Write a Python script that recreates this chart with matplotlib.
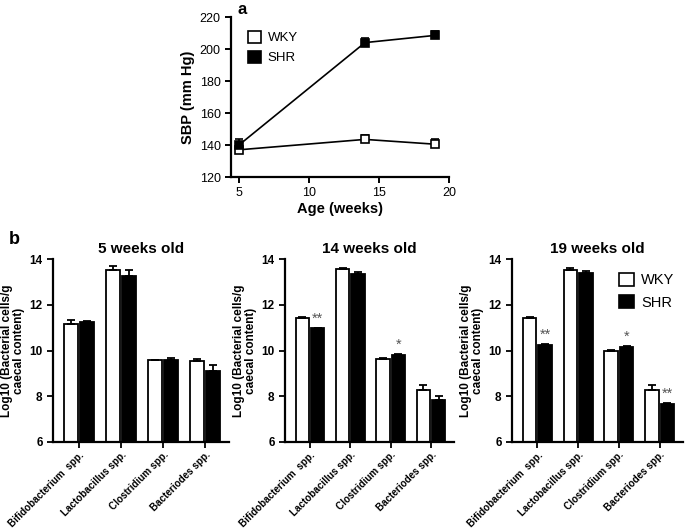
import matplotlib
matplotlib.use("Agg")
import matplotlib.pyplot as plt
from matplotlib.patches import Patch
import numpy as np

plt.rcParams['font.family'] = ['Liberation Sans', 'DejaVu Sans']

# ---- Data: panel a ----
weeks = [5, 14, 19]
sbp_wky = [137, 143.5, 140.5]
sbp_wky_err = [1.5, 2.5, 3.5]
sbp_shr = [140, 204, 208.5]
sbp_shr_err = [3.5, 3, 2.5]

# ---- Data: panel b ----
bacteria = ["Bifidobacterium  spp.", "Lactobacillus spp.", "Clostridium spp.", "Bacteriodes spp."]
titles = ["5 weeks old", "14 weeks old", "19 weeks old"]
wky_vals = [[11.17, 13.5, 9.57, 9.52],
            [11.42, 13.55, 9.65, 8.27],
            [11.42, 13.52, 9.97, 8.27]]
wky_errs = [[0.15, 0.2, 0.02, 0.12],
            [0.05, 0.05, 0.03, 0.2],
            [0.05, 0.1, 0.05, 0.2]]
shr_vals = [[11.25, 13.25, 9.57, 9.1],
            [10.97, 13.35, 9.8, 7.83],
            [10.22, 13.38, 10.15, 7.67]]
shr_errs = [[0.03, 0.25, 0.12, 0.28],
            [0.03, 0.08, 0.03, 0.18],
            [0.05, 0.08, 0.03, 0.05]]
stars = [["", "", "", ""],
         ["**", "", "*", ""],
         ["**", "", "*", "**"]]

W, H = 685, 528
fig = plt.figure(figsize=(W / 100, H / 100), dpi=100)

def ax_px(l, r, t, b):
    return fig.add_axes([l / W, (H - b) / H, (r - l) / W, (b - t) / H])

# ---- Panel a ----
ax = ax_px(231, 449, 17, 177)
ax.errorbar(weeks, sbp_wky, yerr=[np.zeros(3), sbp_wky_err], color='black', lw=1.2,
            marker='s', ms=6, mfc='white', mec='black', mew=1.2, capsize=3, capthick=1.2,
            elinewidth=1.2, label='WKY', zorder=3)
ax.errorbar(weeks, sbp_shr, yerr=[np.zeros(3), sbp_shr_err], color='black', lw=1.2,
            marker='s', ms=6, mfc='black', mec='black', mew=1.2, capsize=3, capthick=1.2,
            elinewidth=1.2, label='SHR', zorder=3)
ax.set_xlim(4.43, 20)
ax.set_ylim(120, 220)
ax.set_xticks([5, 10, 15, 20])
ax.set_yticks([120, 140, 160, 180, 200, 220])
for s in ['top', 'right']:
    ax.spines[s].set_visible(False)
for s in ['left', 'bottom']:
    ax.spines[s].set_linewidth(1.6)
ax.tick_params(width=1.4, length=4, labelsize=9)
ax.set_xlabel('Age (weeks)', fontsize=10.5, fontweight='bold', labelpad=2)
ax.set_ylabel('SBP (mm Hg)', fontsize=10.5, fontweight='bold', labelpad=3)
h_wky = Patch(facecolor='white', edgecolor='black', lw=1.2)
h_shr = Patch(facecolor='black', edgecolor='black', lw=1.2)
ax.legend([h_wky, h_shr], ['WKY', 'SHR'], loc='upper left', bbox_to_anchor=(0.035, 0.97),
          frameon=False, fontsize=9.5, handlelength=1.0, handleheight=1.0,
          handletextpad=0.5, labelspacing=0.5, borderpad=0.2)
fig.text(237 / W, 1 - 10 / H, 'a', fontsize=12, fontweight='bold', ha='left', va='center')

# ---- Panel b ----
fig.text(14 / W, 1 - 240 / H, 'b', fontsize=13, fontweight='bold', ha='center', va='center')
panels_px = [(53, 229), (285, 454), (512, 683)]
x = np.arange(len(bacteria))
bw = 0.33
off = 0.19
for i, (l, r) in enumerate(panels_px):
    ax = ax_px(l, r, 259, 442)
    ax.bar(x - off, wky_vals[i], bw, color='white', edgecolor='black', lw=1.3,
           yerr=[np.zeros(4), wky_errs[i]], capsize=3,
           error_kw=dict(elinewidth=1.3, capthick=1.3, ecolor='black'), zorder=2)
    ax.bar(x + off, shr_vals[i], bw, color='black', edgecolor='black', lw=1.3,
           yerr=[np.zeros(4), shr_errs[i]], capsize=3,
           error_kw=dict(elinewidth=1.3, capthick=1.3, ecolor='black'), zorder=2)
    for j, st in enumerate(stars[i]):
        if st:
            ax.text(x[j] + off, shr_vals[i][j] + shr_errs[i][j] + 0.1, st,
                    ha='center', va='bottom', fontsize=10.5, color='#555555')
    ax.set_ylim(6, 14)
    ax.set_yticks([6, 8, 10, 12, 14])
    ax.set_xlim(-0.62, 3.57)
    ax.set_xticks(x)
    ax.set_xticklabels(bacteria, rotation=45, ha='right', rotation_mode='anchor',
                       fontsize=7.1, fontweight='bold')
    for lab in ax.get_yticklabels():
        lab.set_fontweight('bold')
    ax.tick_params(axis='y', width=1.3, length=4, labelsize=8.5)
    ax.tick_params(axis='x', width=1.3, length=4, pad=1.5)
    for s in ['top', 'right']:
        ax.spines[s].set_visible(False)
    for s in ['left', 'bottom']:
        ax.spines[s].set_linewidth(1.6)
    ax.set_ylabel('Log10 (Bacterial cells/g\ncaecal content)', fontsize=8.5,
                  fontweight='bold', labelpad=3, linespacing=1.0)
    ax.set_title(titles[i], fontsize=11, fontweight='bold', pad=4)
    if i == 2:
        ax.legend([h_wky, h_shr], ['WKY', 'SHR'], loc='upper right',
                  bbox_to_anchor=(1.01, 0.98), frameon=False, fontsize=10.5,
                  handlelength=1.0, handleheight=1.0, handletextpad=0.5,
                  labelspacing=0.55, borderpad=0.2)

fig.savefig('out.png', dpi=100)
